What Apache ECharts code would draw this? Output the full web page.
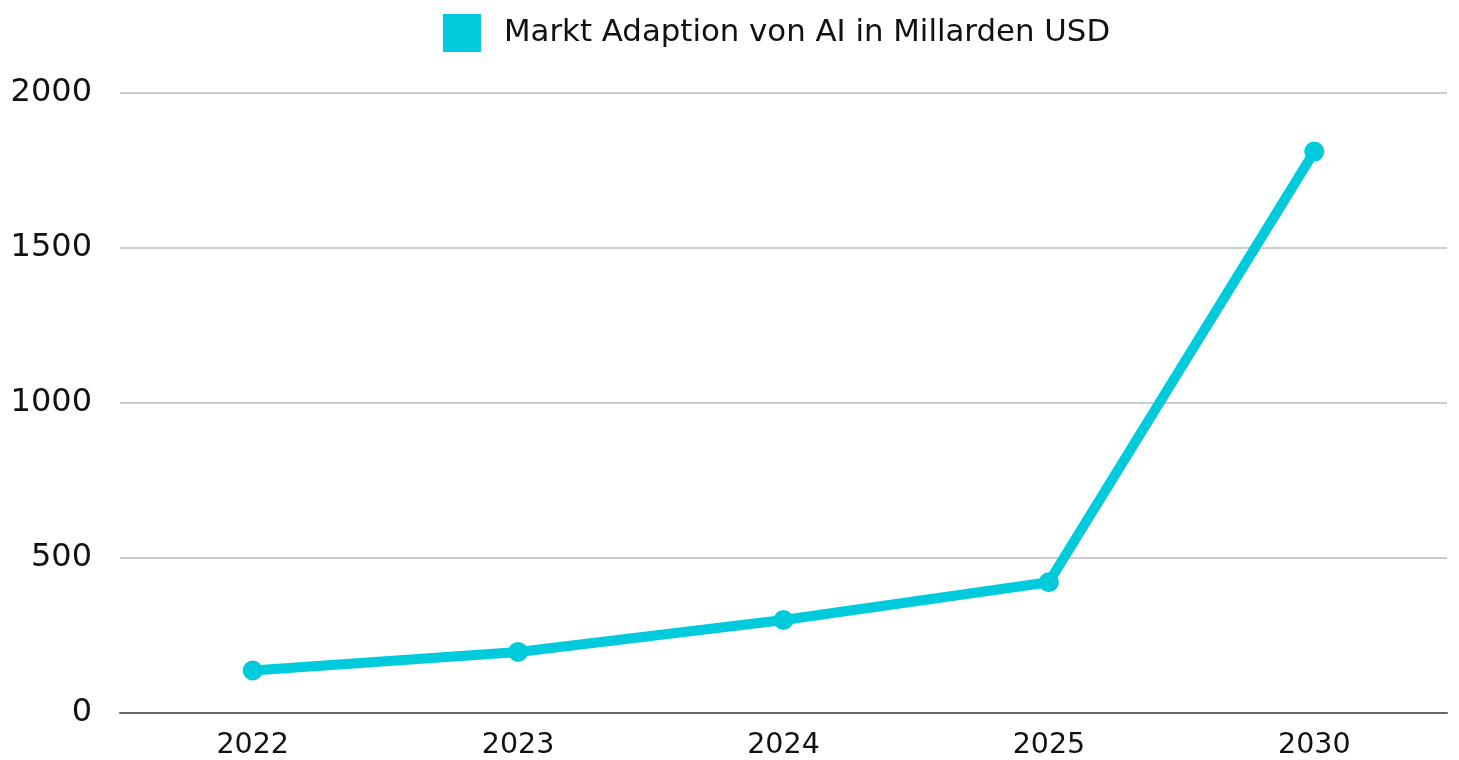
<!DOCTYPE html>
<html><head><meta charset="utf-8">
<script src="https://cdn.jsdelivr.net/npm/echarts@6/dist/echarts.min.js"></script>
<style>html,body{margin:0;padding:0;background:#fff}#c{width:1459px;height:760px}</style>
</head><body><div id="c"></div>
<script>
const categories = ['2022', '2023', '2024', '2025', '2030'];
const values = [137, 197, 300, 422, 1811];
const seriesName = 'Markt Adaption von AI in Millarden USD';
const yTicks = [0, 500, 1000, 1500, 2000];

const color = '#00CBDC';
const font = 'DejaVu Sans';
const chart = echarts.init(document.getElementById('c'), null, {renderer: 'canvas'});
chart.setOption({
  animation: false,
  legend: {
    top: 14, left: 443, padding: 0,
    itemWidth: 38, itemHeight: 38, itemGap: 10,
    textStyle: {fontFamily: font, fontSize: 30.8, color: '#111', padding: [0, 0, 0, 18]},
    data: [{name: seriesName, icon: 'rect'}]
  },
  grid: {left: 120, right: 12, top: 93, bottom: 47, containLabel: false},
  xAxis: {
    type: 'category', data: categories,
    axisLine: {lineStyle: {color: '#666', width: 2}},
    axisTick: {show: false},
    axisLabel: {fontFamily: font, fontSize: 28.5, color: '#111', margin: 18}
  },
  yAxis: {
    type: 'value', min: yTicks[0], max: yTicks[yTicks.length - 1], interval: 500,
    axisLine: {show: false}, axisTick: {show: false},
    splitLine: {lineStyle: {color: '#bbb', width: 1.5}},
    axisLabel: {fontFamily: font, fontSize: 32, color: '#111', margin: 28, padding: [3, 0, 0, 0], formatter: function (v) { return String(v); }}
  },
  series: [{
    name: seriesName, type: 'line', data: values,
    symbol: 'circle', symbolSize: 20,
    lineStyle: {color: color, width: 10},
    itemStyle: {color: color}
  }]
});
</script></body></html>
